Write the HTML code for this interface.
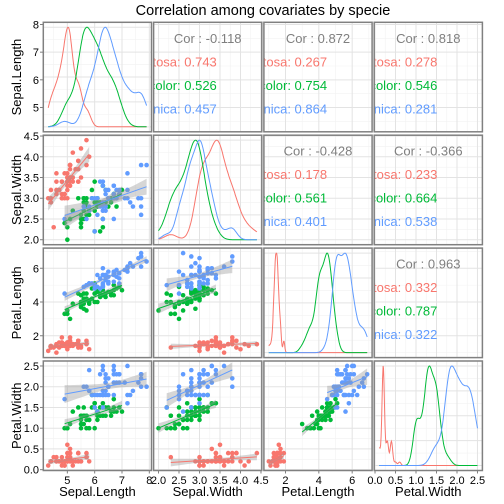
<!DOCTYPE html>
<html><head><meta charset="utf-8">
<style>
html,body{margin:0;padding:0;background:#fff;}
svg{display:block;font-family:"Liberation Sans",sans-serif;}
</style></head>
<body>
<svg id="chart" width="504" height="504" viewBox="0 0 504 504">
<text x="263" y="15" text-anchor="middle" font-size="14.5" fill="#000">Correlation among covariates by specie</text>
</svg>
<script>
const varNames=["Sepal.Length","Sepal.Width","Petal.Length","Petal.Width"];
const speciesNames=["setosa","versicolor","virginica"];
const speciesColors=["#F8766D","#00BA38","#619CFF"];
const tickBreaks=[[5,6,7,8],[2,2.5,3,3.5,4,4.5],[2,4,6],[0,0.5,1,1.5,2,2.5]];
const tickLabels=[["5","6","7","8"],["2.0","2.5","3.0","3.5","4.0","4.5"],["2","4","6"],["0.0","0.5","1.0","1.5","2.0","2.5"]];
const sepalLength=[5.1,4.9,4.7,4.6,5.0,5.4,4.6,5.0,4.4,4.9,5.4,4.8,4.8,4.3,5.8,5.7,5.4,5.1,5.7,5.1,5.4,5.1,4.6,5.1,4.8,5.0,5.0,5.2,5.2,4.7,4.8,5.4,5.2,5.5,4.9,5.0,5.5,4.9,4.4,5.1,5.0,4.5,4.4,5.0,5.1,4.8,5.1,4.6,5.3,5.0,
7.0,6.4,6.9,5.5,6.5,5.7,6.3,4.9,6.6,5.2,5.0,5.9,6.0,6.1,5.6,6.7,5.6,5.8,6.2,5.6,5.9,6.1,6.3,6.1,6.4,6.6,6.8,6.7,6.0,5.7,5.5,5.5,5.8,6.0,5.4,6.0,6.7,6.3,5.6,5.5,5.5,6.1,5.8,5.0,5.6,5.7,5.7,6.2,5.1,5.7,
6.3,5.8,7.1,6.3,6.5,7.6,4.9,7.3,6.7,7.2,6.5,6.4,6.8,5.7,5.8,6.4,6.5,7.7,7.7,6.0,6.9,5.6,7.7,6.3,6.7,7.2,6.2,6.1,6.4,7.2,7.4,7.9,6.4,6.3,6.1,7.7,6.3,6.4,6.0,6.9,6.7,6.9,5.8,6.8,6.7,6.7,6.3,6.5,6.2,5.9];
const sepalWidth=[3.5,3.0,3.2,3.1,3.6,3.9,3.4,3.4,2.9,3.1,3.7,3.4,3.0,3.0,4.0,4.4,3.9,3.5,3.8,3.8,3.4,3.7,3.6,3.3,3.4,3.0,3.4,3.5,3.4,3.2,3.1,3.4,4.1,4.2,3.1,3.2,3.5,3.6,3.0,3.4,3.5,2.3,3.2,3.5,3.8,3.0,3.8,3.2,3.7,3.3,
3.2,3.2,3.1,2.3,2.8,2.8,3.3,2.4,2.9,2.7,2.0,3.0,2.2,2.9,2.9,3.1,3.0,2.7,2.2,2.5,3.2,2.8,2.5,2.8,2.9,3.0,2.8,3.0,2.9,2.6,2.4,2.4,2.7,2.7,3.0,3.4,3.1,2.3,3.0,2.5,2.6,3.0,2.6,2.3,2.7,3.0,2.9,2.9,2.5,2.8,
3.3,2.7,3.0,2.9,3.0,3.0,2.5,2.9,2.5,3.6,3.2,2.7,3.0,2.5,2.8,3.2,3.0,3.8,2.6,2.2,3.2,2.8,2.8,2.7,3.3,3.2,2.8,3.0,2.8,3.0,2.8,3.8,2.8,2.8,2.6,3.0,3.4,3.1,3.0,3.1,3.1,3.1,2.7,3.2,3.3,3.0,2.5,3.0,3.4,3.0];
const petalLength=[1.4,1.4,1.3,1.5,1.4,1.7,1.4,1.5,1.4,1.5,1.5,1.6,1.4,1.1,1.2,1.5,1.3,1.4,1.7,1.5,1.7,1.5,1.0,1.7,1.9,1.6,1.6,1.5,1.4,1.6,1.6,1.5,1.5,1.4,1.5,1.2,1.3,1.4,1.3,1.5,1.3,1.3,1.3,1.6,1.9,1.4,1.6,1.4,1.5,1.4,
4.7,4.5,4.9,4.0,4.6,4.5,4.7,3.3,4.6,3.9,3.5,4.2,4.0,4.7,3.6,4.4,4.5,4.1,4.5,3.9,4.8,4.0,4.9,4.7,4.3,4.4,4.8,5.0,4.5,3.5,3.8,3.7,3.9,5.1,4.5,4.5,4.7,4.4,4.1,4.0,4.4,4.6,4.0,3.3,4.2,4.2,4.2,4.3,3.0,4.1,
6.0,5.1,5.9,5.6,5.8,6.6,4.5,6.3,5.8,6.1,5.1,5.3,5.5,5.0,5.1,5.3,5.5,6.7,6.9,5.0,5.7,4.9,6.7,4.9,5.7,6.0,4.8,4.9,5.6,5.8,6.1,6.4,5.6,5.1,5.6,6.1,5.6,5.5,4.8,5.4,5.6,5.1,5.1,5.9,5.7,5.2,5.0,5.2,5.4,5.1];
const petalWidth=[0.2,0.2,0.2,0.2,0.2,0.4,0.3,0.2,0.2,0.1,0.2,0.2,0.1,0.1,0.2,0.4,0.4,0.3,0.3,0.3,0.2,0.4,0.2,0.5,0.2,0.2,0.4,0.2,0.2,0.2,0.2,0.4,0.1,0.2,0.2,0.2,0.2,0.1,0.2,0.2,0.3,0.3,0.2,0.6,0.4,0.3,0.2,0.2,0.2,0.2,
1.4,1.5,1.5,1.3,1.5,1.3,1.6,1.0,1.3,1.4,1.0,1.5,1.0,1.4,1.3,1.4,1.5,1.0,1.5,1.1,1.8,1.3,1.5,1.2,1.3,1.4,1.4,1.7,1.5,1.0,1.1,1.0,1.2,1.6,1.5,1.6,1.5,1.3,1.3,1.3,1.2,1.4,1.2,1.0,1.3,1.2,1.3,1.3,1.1,1.3,
2.5,1.9,2.1,1.8,2.2,2.1,1.7,1.8,1.8,2.5,2.0,1.9,2.1,2.0,2.4,2.3,1.8,2.2,2.3,1.5,2.3,2.0,2.0,1.8,2.1,1.8,1.8,1.8,2.1,1.6,1.9,2.0,2.2,1.5,1.4,2.3,2.4,1.8,1.8,2.1,2.4,2.3,1.9,2.3,2.5,2.3,1.9,2.0,2.3,1.8];

const NS="http://www.w3.org/2000/svg";
const svg=document.getElementById("chart");
const vars=[sepalLength,sepalWidth,petalLength,petalWidth];
const PX0=43.3,PY0=22.3,PXS=110.3,PYS=112.9,PW=108.2,PH=109.5;
function mk(tag,attrs,parent){const e=document.createElementNS(NS,tag);for(const k in attrs)e.setAttribute(k,attrs[k]);(parent||svg).appendChild(e);return e;}
function rng(v){const mn=Math.min(...v),mx=Math.max(...v);const d=mx-mn;return [mn-0.05*d,mx+0.05*d];}
const ranges=vars.map(rng);
function sx(i,col,val){const r=ranges[i];return PX0+col*PXS+(val-r[0])/(r[1]-r[0])*PW;}
function sy(i,row,val){const r=ranges[i];return PY0+row*PYS+PH-(val-r[0])/(r[1]-r[0])*PH;}
function grp(g){return [g*50,g*50+50];}
function mean(a){return a.reduce((s,x)=>s+x,0)/a.length;}
function cor(a,b){const ma=mean(a),mb=mean(b);let sab=0,saa=0,sbb=0;for(let k=0;k<a.length;k++){sab+=(a[k]-ma)*(b[k]-mb);saa+=(a[k]-ma)**2;sbb+=(b[k]-mb)**2;}return sab/Math.sqrt(saa*sbb);}
function sd(a){const m=mean(a);return Math.sqrt(a.reduce((s,x)=>s+(x-m)**2,0)/(a.length-1));}
function quant(a,p){const s=[...a].sort((x,y)=>x-y);const h=(s.length-1)*p;const lo=Math.floor(h);return s[lo]+(h-lo)*((s[lo+1]??s[lo])-s[lo]);}
function bw(a){const iqr=quant(a,0.75)-quant(a,0.25);return 0.9*Math.min(sd(a),iqr/1.34)*Math.pow(a.length,-0.2);}

for(let i=0;i<4;i++){
  tickBreaks[i].forEach((b,k)=>{
    const y=sy(i,i,b);
    const ty=mk("text",{x:39,y:y+4,"text-anchor":"end","font-size":"11",fill:"#000"});
    
    
    ty.textContent=tickLabels[i][k];
    mk("line",{x1:40,x2:43.3,y1:y,y2:y,stroke:"#7f7f7f","stroke-width":1});
    const x=sx(i,i,b);
    const tx=mk("text",{x:x,y:484,"text-anchor":"middle","font-size":"11",fill:"#000"});
    
    
    tx.textContent=tickLabels[i][k];
    mk("line",{x1:x,x2:x,y1:PY0+3*PYS+PH,y2:PY0+3*PYS+PH+3,stroke:"#7f7f7f","stroke-width":1});
  });
  const cx=PX0+i*PXS+PW/2;
  const xl=mk("text",{x:cx,y:496,"text-anchor":"middle","font-size":"13",fill:"#000"});
  
  
  xl.textContent=varNames[i];
  const cy=PY0+i*PYS+PH/2;
  const yl=mk("text",{x:0,y:0,"text-anchor":"middle","font-size":"13",fill:"#000",transform:`translate(21,${cy}) rotate(-90)`});
  
  
  yl.textContent=varNames[i];
}

for(let row=0;row<4;row++)for(let col=0;col<4;col++){
  const px=PX0+col*PXS,py=PY0+row*PYS;
  const cid=`clip${row}${col}`;
  const cp=mk("clipPath",{id:cid});mk("rect",{x:px,y:py,width:PW,height:PH},cp);
  const g=mk("g",{"clip-path":`url(#${cid})`});
  
  
  mk("rect",{x:px,y:py,width:PW,height:PH,fill:"#fff"},g);
  const xb=tickBreaks[col];
  const xm=[];for(let k=-1;k<xb.length;k++){const a=k<0?xb[0]-(xb[1]-xb[0]):xb[k];const b=k+1<xb.length?xb[k+1]:xb[k]+(xb[1]-xb[0]);xm.push((a+b)/2);}
  let yScale,yb;
  if(row===col){
    const v=vars[col];let dens=[];
    const xr=[Math.min(...v),Math.max(...v)];
    for(let s=0;s<3;s++){const [a,b]=grp(s);const d=v.slice(a,b);const h=bw(d);const pts=[];let m=0;
      for(let k=0;k<=200;k++){const x=xr[0]+(xr[1]-xr[0])*k/200;let f=0;for(const t of d)f+=Math.exp(-0.5*((x-t)/h)**2);f/=d.length*h*Math.sqrt(2*Math.PI);pts.push([x,f]);m=Math.max(m,f);}
      pts.forEach(q=>q[1]/=m);
      dens.push(pts);}
    const lo=-0.05,hi=1.05;
    yScale=val=>py+PH-(val-lo)/(hi-lo)*PH;
    yb=[0,0.25,0.5,0.75,1];
    drawGrid();
    dens.forEach((pts,s)=>{const p=mk("path",{d:"M"+pts.map(q=>`${sx(col,col,q[0]).toFixed(1)},${yScale(q[1]).toFixed(1)}`).join("L"),fill:"none",stroke:speciesColors[s],"stroke-width":1},g);
      
      });
  } else {
    yScale=val=>sy(row,row,val);yb=tickBreaks[row];
    drawGrid();
    if(row>col){
      const X=vars[col],Y=vars[row];
      for(let k=0;k<150;k++){const c=mk("circle",{cx:sx(col,col,X[k]),cy:sy(row,row,Y[k]),r:2.3,fill:speciesColors[Math.floor(k/50)]},g);
        
        }
      for(let s=0;s<3;s++){const [a,b]=grp(s);const x=X.slice(a,b),y=Y.slice(a,b);const mx=mean(x),my=mean(y);
        let sxx=0,sxy=0;for(let k=0;k<50;k++){sxx+=(x[k]-mx)**2;sxy+=(x[k]-mx)*(y[k]-my);}
        const b1=sxy/sxx,b0=my-b1*mx;let sse=0;for(let k=0;k<50;k++)sse+=(y[k]-b0-b1*x[k])**2;const se=Math.sqrt(sse/48);
        const x0=Math.min(...x),x1=Math.max(...x);const up=[],dn=[];
        for(let k=0;k<=40;k++){const xx=x0+(x1-x0)*k/40;const yy=b0+b1*xx;const w=2.011*se*Math.sqrt(1/50+(xx-mx)**2/sxx);
          up.push(`${sx(col,col,xx).toFixed(1)},${sy(row,row,yy+w).toFixed(1)}`);dn.unshift(`${sx(col,col,xx).toFixed(1)},${sy(row,row,yy-w).toFixed(1)}`);}
        const band=mk("polygon",{points:up.concat(dn).join(" "),fill:"#999999","fill-opacity":0.4},g);
        
        
        const ln=mk("line",{x1:sx(col,col,x0),y1:sy(row,row,b0+b1*x0),x2:sx(col,col,x1),y2:sy(row,row,b0+b1*x1),stroke:speciesColors[s],"stroke-width":1},g);
        
        }
    } else {
      const X=vars[col],Y=vars[row];
      const t=mk("text",{x:px+PW/2,y:py+20.5,"text-anchor":"middle","font-size":"13",fill:"#7f7f7f"},g);
      
      
      t.textContent="Cor : "+cor(X,Y).toFixed(3);
      for(let s=0;s<3;s++){const [a,b]=grp(s);
        const tt=mk("text",{x:px+63.2,y:py+44+s*23.5,"text-anchor":"end","font-size":"13",fill:speciesColors[s]},g);
        
        
        tt.textContent=speciesNames[s]+": "+cor(X.slice(a,b),Y.slice(a,b)).toFixed(3);}
    }
  }
  const border=mk("rect",{x:px,y:py,width:PW,height:PH,fill:"none",stroke:"#808080","stroke-width":1.5});
  
  
  function drawGrid(){
    const ym=[];for(let k=-1;k<yb.length;k++){const a=k<0?yb[0]-(yb[1]-yb[0]):yb[k];const b=k+1<yb.length?yb[k+1]:yb[k]+(yb[1]-yb[0]);ym.push((a+b)/2);}
    xm.forEach(v=>{const x=sx(col,col,v);mk("line",{x1:x,x2:x,y1:py,y2:py+PH,stroke:"#f2f2f2","stroke-width":0.6},g);});
    ym.forEach(v=>{const y=yScale(v);mk("line",{x1:px,x2:px+PW,y1:y,y2:y,stroke:"#f2f2f2","stroke-width":0.6},g);});
    xb.forEach(v=>{const x=sx(col,col,v);mk("line",{x1:x,x2:x,y1:py,y2:py+PH,stroke:"#e3e3e3","stroke-width":1},g);});
    yb.forEach(v=>{const y=yScale(v);mk("line",{x1:px,x2:px+PW,y1:y,y2:y,stroke:"#e3e3e3","stroke-width":1},g);});
  }
}
</script>
</body></html>
